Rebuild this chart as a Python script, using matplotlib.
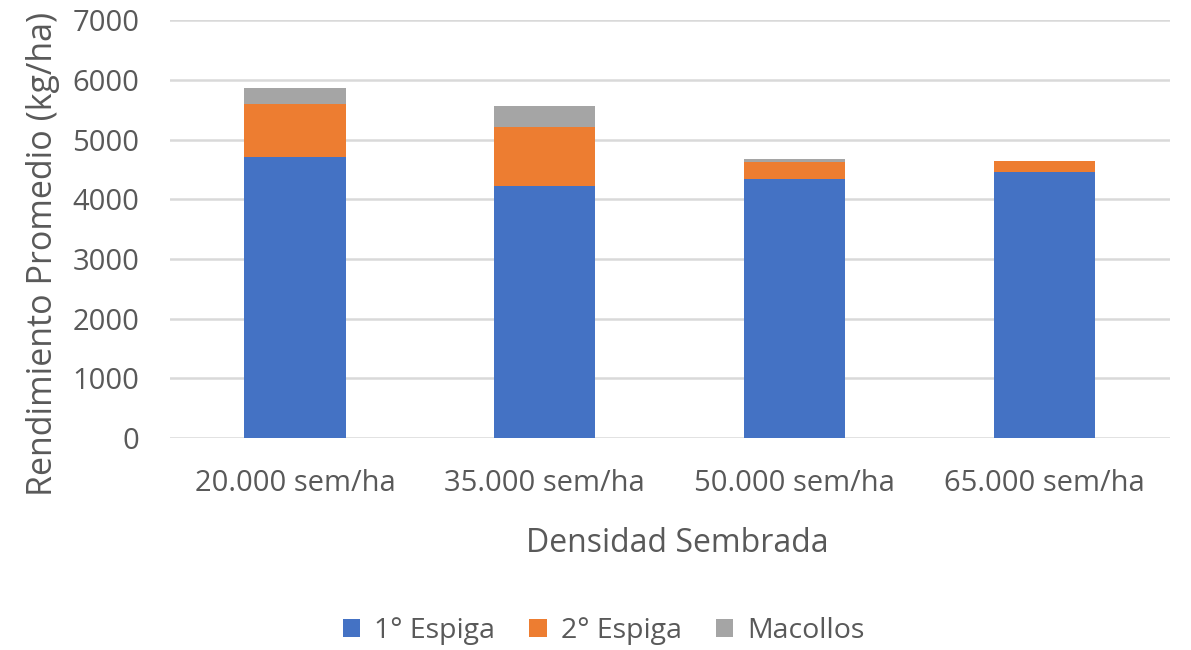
import numpy as np
import matplotlib.pyplot as plt

categorias = ['20.000 sem/ha', '35.000 sem/ha', '50.000 sem/ha', '65.000 sem/ha']
espiga1 = [4700, 4215, 4340, 4455]
espiga2 = [890, 995, 280, 190]
macollos = [270, 355, 55, 0]

plt.rcParams['font.family'] = ['Open Sans', 'DejaVu Sans']
gris_txt = '#595959'

fig = plt.figure(figsize=(11.91, 6.5), dpi=100)
ax = fig.add_axes([0.1427, 0.326, 0.8393, 0.643])

x = np.arange(len(categorias))
w = 0.405
b1 = np.array(espiga1)
b2 = b1 + np.array(espiga2)
ax.bar(x, espiga1, w, color='#4472C4', label='1° Espiga', zorder=3)
ax.bar(x, espiga2, w, bottom=b1, color='#ED7D31', label='2° Espiga', zorder=3)
ax.bar(x, macollos, w, bottom=b2, color='#A5A5A5', label='Macollos', zorder=3)

ax.set_xlim(-0.5, 3.5)
ax.set_ylim(0, 7000)
ax.set_yticks(range(0, 7001, 1000))
ax.grid(axis='y', color='#D9D9D9', linewidth=1.8, zorder=0)
for s in ax.spines.values():
    s.set_visible(False)
ax.tick_params(length=0, labelsize=21, colors=gris_txt)
ax.tick_params(axis='y', pad=22)
ax.tick_params(axis='x', pad=22)
ax.set_xticks(x)
ax.set_xticklabels(categorias)

ax.set_xlabel('Densidad Sembrada', fontsize=23, color=gris_txt)
ax.xaxis.set_label_coords(0.508, -0.212)
ax.set_ylabel('Rendimiento Promedio (kg/ha)', fontsize=24.5, color=gris_txt)
ax.yaxis.set_label_coords(-0.11, 0.44)

fig.legend(loc='center', bbox_to_anchor=(0.507, 0.029), ncol=3, frameon=False,
           fontsize=20.5, labelcolor=gris_txt, handlelength=0.6, handleheight=0.6,
           columnspacing=1.2, handletextpad=0.5)

fig.savefig('out.png', dpi=100)
